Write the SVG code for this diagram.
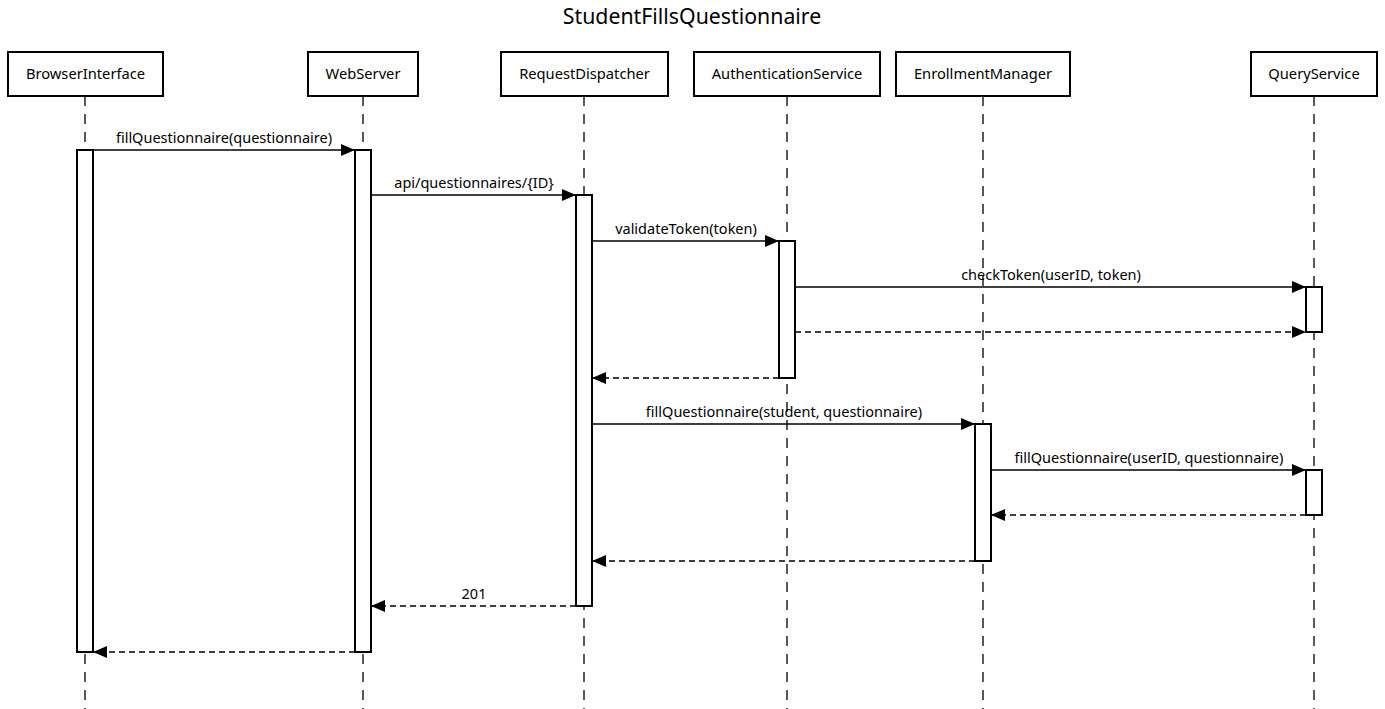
<svg xmlns="http://www.w3.org/2000/svg" width="1385" height="709" viewBox="0 0 1385 709">
<defs>
<style>
text{font-family:"Noto Sans","Open Sans","DejaVu Sans",sans-serif;fill:#000}
.title{font-size:21.3px;text-anchor:middle}
.actor rect{fill:#fff;stroke:#000;stroke-width:2}
.actor text{font-size:14.7px;text-anchor:middle}
.life{stroke:#000;stroke-width:1.3;stroke-dasharray:10,8;fill:none}
.act{fill:#fff;stroke:#000;stroke-width:1.3}
.msg{stroke:#000;stroke-width:1.3;fill:none;marker-end:url(#ah)}
.ret{stroke-dasharray:6,4}
.lbl{font-size:14.5px;text-anchor:middle}
</style>
<marker id="ah" viewBox="0 0 14 12" refX="14" refY="6" markerWidth="14" markerHeight="12" markerUnits="userSpaceOnUse" orient="auto">
<path d="M0,0 L14,6 L0,12 Z" fill="#000"/>
</marker>
</defs>
<rect width="1385" height="709" fill="#fff"/>
<text class="title" x="692" y="24">StudentFillsQuestionnaire</text>

<g id="lifelines">
<line class="life" x1="85" y1="96" x2="85" y2="709"/>
<line class="life" x1="363" y1="96" x2="363" y2="709"/>
<line class="life" x1="584" y1="96" x2="584" y2="709"/>
<line class="life" x1="787" y1="96" x2="787" y2="709"/>
<line class="life" x1="983" y1="96" x2="983" y2="709"/>
<line class="life" x1="1314" y1="96" x2="1314" y2="709"/>
</g>

<g id="BrowserInterface" class="actor">
<rect x="8" y="52" width="155" height="44"/>
<text x="85.5" y="79">BrowserInterface</text>
<rect class="act" x="77" y="150" width="16" height="502"/>
</g>
<g id="WebServer" class="actor">
<rect x="308" y="52" width="110" height="44"/>
<text x="363" y="79">WebServer</text>
<rect class="act" x="355" y="150" width="16" height="502"/>
</g>
<g id="RequestDispatcher" class="actor">
<rect x="501" y="52" width="167" height="44"/>
<text x="584.5" y="79">RequestDispatcher</text>
<rect class="act" x="576" y="195" width="16" height="411"/>
</g>
<g id="AuthenticationService" class="actor">
<rect x="694" y="52" width="186" height="44"/>
<text x="787" y="79">AuthenticationService</text>
<rect class="act" x="779" y="241" width="16" height="137"/>
</g>
<g id="EnrollmentManager" class="actor">
<rect x="896" y="52" width="174" height="44"/>
<text x="983" y="79">EnrollmentManager</text>
<rect class="act" x="975" y="424" width="16" height="137"/>
</g>
<g id="QueryService" class="actor">
<rect x="1251" y="52" width="126" height="44"/>
<text x="1314" y="79">QueryService</text>
<rect class="act" x="1306" y="287" width="16" height="45"/>
<rect class="act" x="1306" y="470" width="16" height="45"/>
</g>

<g id="connectors">
<line class="msg" x1="93" y1="150" x2="355" y2="150"/>
<text class="lbl" x="224" y="143">fillQuestionnaire(questionnaire)</text>
<line class="msg" x1="371" y1="195" x2="576" y2="195"/>
<text class="lbl" x="474" y="188">api/questionnaires/{ID}</text>
<line class="msg" x1="592" y1="241" x2="779" y2="241"/>
<text class="lbl" x="686" y="234">validateToken(token)</text>
<line class="msg" x1="795" y1="287" x2="1306" y2="287"/>
<text class="lbl" x="1051" y="280">checkToken(userID, token)</text>
<line class="msg ret" x1="795" y1="332" x2="1306" y2="332"/>
<line class="msg ret" x1="779" y1="378" x2="592" y2="378"/>
<line class="msg" x1="592" y1="424" x2="975" y2="424"/>
<text class="lbl" x="784" y="417">fillQuestionnaire(student, questionnaire)</text>
<line class="msg" x1="991" y1="470" x2="1306" y2="470"/>
<text class="lbl" x="1149" y="463">fillQuestionnaire(userID, questionnaire)</text>
<line class="msg ret" x1="1306" y1="515" x2="991" y2="515"/>
<line class="msg ret" x1="975" y1="561" x2="592" y2="561"/>
<line class="msg ret" x1="576" y1="606" x2="371" y2="606"/>
<text class="lbl" x="474" y="599">201</text>
<line class="msg ret" x1="355" y1="652" x2="93" y2="652"/>
</g>
</svg>
